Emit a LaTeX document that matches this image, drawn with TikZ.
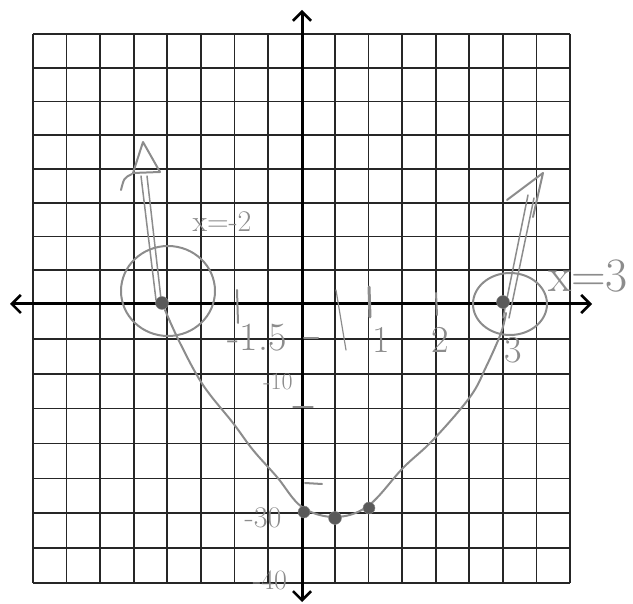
\documentclass[tikz,border=0pt]{standalone}
\usepackage{fontspec}
\usetikzlibrary{arrows.meta}
\definecolor{pencil}{HTML}{8C8C8C}
\definecolor{lead}{HTML}{5A5A5A}
\begin{document}
\begin{tikzpicture}[x=1pt,y=-1pt,
  gridline/.style={draw=black!85,line width=1.6pt},
  axisline/.style={draw=black,line width=3pt,-{Straight Barb[length=9pt,width=18pt,line width=2.6pt]}},
  hand/.style={draw=pencil,line width=2pt,line cap=round,line join=round},
  handtext/.style={text=pencil,inner sep=0pt},
  ptdot/.style={circle,fill=lead,draw=lead!70,minimum size=13pt,inner sep=0pt}]
\useasboundingbox (0,0) rectangle (633,604);
% grid
\foreach \x in {33,66.6,100.1,133.7,167.2,200.8,234.3,267.9,301.5,335,368.6,402.1,435.7,469.2,502.8,536.3,570}
  \draw[gridline] (\x,34) -- (\x,583);
\foreach \y in {34,67.75,101.5,135.25,169,202.75,236.5,270.25,304,338.9,373.75,408.6,443.5,478.4,513.25,548.1,583}
  \draw[gridline] (33,\y) -- (570,\y);
% axes
\coordinate (o) at (302,304);
\coordinate (xl) at (10,304);
\coordinate (xr) at (592,304);
\coordinate (yt) at (302,10);
\coordinate (yb) at (302,602);
\draw[axisline] (o) -- (xl);
\draw[axisline] (o) -- (xr);
\draw[axisline] (o) -- (yt);
\draw[axisline] (o) -- (yb);
% circles
\draw[hand] (168,291) ellipse [x radius=47,y radius=45];
\draw[hand] (510,304) ellipse [x radius=37,y radius=31];
% hollow arrows
\draw[hand,line width=1.5pt] (156,300) -- (141,176) (161,299) -- (147,176);
\draw[hand] (133,173) -- (143,142) -- (160,172) -- (133,173);
\draw[hand] (132,174) .. controls (124,178) .. (121,190);
\draw[hand,line width=1.5pt] (503,318) -- (528,195) (509,318) -- (534,198);
\draw[hand] (507,200) -- (543,173) -- (533,217);
% curve
\draw[hand] plot[smooth,tension=0.6] coordinates {(165,310) (180,343) (203,385) (233,423) (253,450) (277,477) (302,507) (335,517) (368,506) (403,468) (433,440) (470,397) (486,367) (501,333) (506,313)};
% ticks
\draw[hand] (237,290) -- (238,323);
\draw[hand,line width=3pt] (369,287) -- (370,317);
\draw[hand] (436,293) -- (437,315);
\draw[hand,line width=1.2pt] (336,290) -- (346,350);
\draw[hand] (304,338) -- (318,338);
\draw[hand,line width=1.2pt] (293,407) -- (313,407);
\draw[hand] (305,483) -- (322,484);
% dots
\node[ptdot] (p1) at (162,303) {};
\node[ptdot] (p2) at (503,302) {};
\node[ptdot,minimum size=12pt] (p3) at (304,512) {};
\node[ptdot] (p4) at (335,518) {};
\node[ptdot,minimum size=12pt] (p5) at (369,508) {};
% labels
\node[handtext,font=\fontsize{30}{30}\selectfont] (lx1) at (222,222) {x=-2};
\node[handtext,font=\fontsize{48}{48}\selectfont] (lx2) at (588,276) {x=3};
\node[handtext,font=\fontsize{38}{38}\selectfont] (l3) at (513,350) {3};
\node[handtext,font=\fontsize{38}{38}\selectfont] (l2) at (440,340) {2};
\node[handtext,font=\fontsize{38}{38}\selectfont] (l1) at (381,340) {1};
\node[handtext,font=\fontsize{40}{40}\selectfont] (lm15) at (257,338) {-1.5};
\node[handtext,font=\fontsize{24}{24}\selectfont] (lm10) at (278,382) {-10};
\node[handtext,font=\fontsize{30}{30}\selectfont] (lm30) at (263,518) {-30};
\node[handtext,font=\fontsize{28}{28}\selectfont] (lm40) at (270,580) {-40};
\end{tikzpicture}
\end{document}
